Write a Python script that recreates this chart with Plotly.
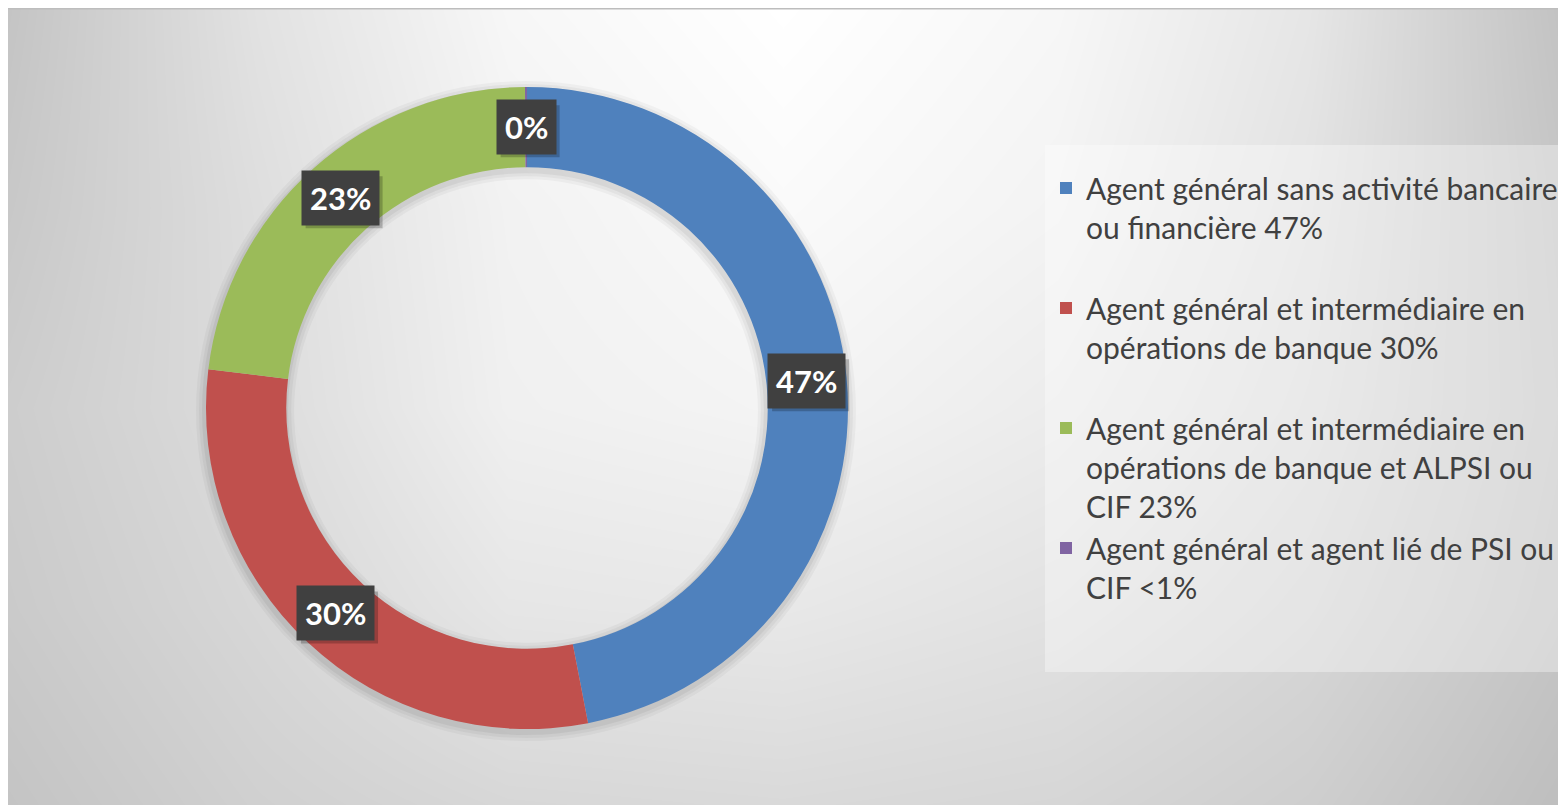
import math
import plotly.graph_objects as go

# figure is drawn inside the page body (8px margin), sized to fill the window
W, H = 1556, 797

categories = [
    "Agent général sans activité bancaire<br>ou financière 47%",
    "Agent général et intermédiaire en<br>opérations de banque 30%",
    "Agent général et intermédiaire en<br>opérations de banque et ALPSI ou<br>CIF 23%",
    "Agent général et agent lié de PSI ou<br>CIF &lt;1%",
]
values = [47, 30, 23, 0.1]
data_labels = ["47%", "30%", "23%", "0%"]
colors = ["#4f81bd", "#c0504d", "#9bbb59", "#8064a2"]

# background tones (grey level on a coarse grid)
bg_x = [0, 250, 500, 775, 1050, 1300, 1556]
bg_y = [0, 200, 400, 600, 797]
bg_z = [
    [196, 226, 247, 255, 247, 230, 194],
    [200, 222, 242, 250, 243, 226, 198],
    [205, 220, 240, 244, 236, 222, 200],
    [202, 215, 230, 232, 226, 215, 197],
    [196, 208, 215, 217, 214, 206, 190],
]

# even spacing of legend entries: pad each one to the same number of lines
slot_lines = 3
legend_names = []
for c in categories:
    n = c.count("<br>") + 1
    legend_names.append(c + "<br>&nbsp;" * max(0, slot_lines - n))

# donut placement (pixels in figure)
cx, cy, R = 519, 400, 321
hole = 0.75


def domain(cx, cy, r):
    return {"x": [(cx - r) / W, (cx + r) / W],
            "y": [(H - cy - r) / H, (H - cy + r) / H]}


fig = go.Figure()

fig.add_trace(go.Heatmap(
    x=bg_x, y=bg_y, z=bg_z, zsmooth="best", zmin=180, zmax=255,
    colorscale=[[0, "rgb(180,180,180)"], [1, "rgb(255,255,255)"]],
    showscale=False, hoverinfo="skip",
))

# soft shadow under the ring
for grow, alpha in [(9, 0.035), (6, 0.04), (3, 0.05)]:
    r_out = R + grow
    r_in = R * hole - grow
    fig.add_trace(go.Pie(
        values=[1], labels=["shadow"], hole=r_in / r_out, sort=False,
        textinfo="none", showlegend=False, hoverinfo="skip",
        marker={"colors": ["rgba(0,0,0,%s)" % alpha], "line": {"width": 0}},
        domain=domain(cx - 1, cy + 3, r_out),
    ))

fig.add_trace(go.Pie(
    labels=legend_names, values=values, hole=hole, sort=False,
    direction="clockwise", rotation=0, textinfo="none",
    marker={"colors": colors, "line": {"width": 0}},
    domain=domain(cx, cy, R),
    hovertemplate="%{label}<extra></extra>",
))

shapes = [
    dict(type="line", xref="paper", yref="paper", x0=0, x1=1, y0=1 - 0.5 / H, y1=1 - 0.5 / H,
         line={"color": "#bdbdbd", "width": 2}, layer="above"),
    # legend panel
    dict(type="rect", xref="paper", yref="paper", x0=1037 / W, x1=1556 / W,
         y0=1 - 664 / H, y1=1 - 137 / H,
         fillcolor="rgba(255,255,255,0.35)", line={"width": 0}, layer="above"),
]

# data labels in dark boxes at the middle of each ring segment
total = sum(values)
r_mid = R * (1 + hole) / 2
cum = 0
annotations = []
for v, lab in zip(values, data_labels):
    th = 2 * math.pi * (cum + v / 2) / total
    cum += v
    xp = (cx + r_mid * math.sin(th)) / W
    yp = 1 - (cy - r_mid * math.cos(th)) / H
    # drop shadow of the label box
    bw = 18 * (len(lab) - 1) + 41
    shapes.append(dict(type="rect", xref="paper", yref="paper",
                       xsizemode="pixel", ysizemode="pixel", xanchor=xp, yanchor=yp,
                       x0=-bw / 2 + 4, x1=bw / 2 + 4, y0=-26 - 4, y1=26 - 4,
                       fillcolor="rgba(0,0,0,0.22)", line={"width": 0}, layer="above"))
    annotations.append(dict(x=xp, y=yp, xref="paper", yref="paper",
                            xanchor="center", yanchor="middle",
                            showarrow=False, borderpad=8, text="<b>" + lab + "</b>",
                            bgcolor="#404040",
                            font={"family": "Lato", "size": 31, "color": "white"}))

fig.update_layout(
    width=W, height=H,
    margin={"l": 0, "r": 0, "t": 0, "b": 0},
    paper_bgcolor="white", plot_bgcolor="white",
    xaxis={"range": [0, W], "visible": False, "domain": [0, 1], "fixedrange": True},
    yaxis={"range": [H, 0], "visible": False, "domain": [0, 1], "fixedrange": True},
    showlegend=True,
    legend={
        "x": 1038 / W, "y": 1 - 154 / H, "xanchor": "left", "yanchor": "top",
        "bgcolor": "rgba(0,0,0,0)", "valign": "top",
        "font": {"family": "Lato", "size": 30, "color": "#404040"},
    },
    annotations=annotations,
    shapes=shapes,
)

fig.write_html("out.html")
